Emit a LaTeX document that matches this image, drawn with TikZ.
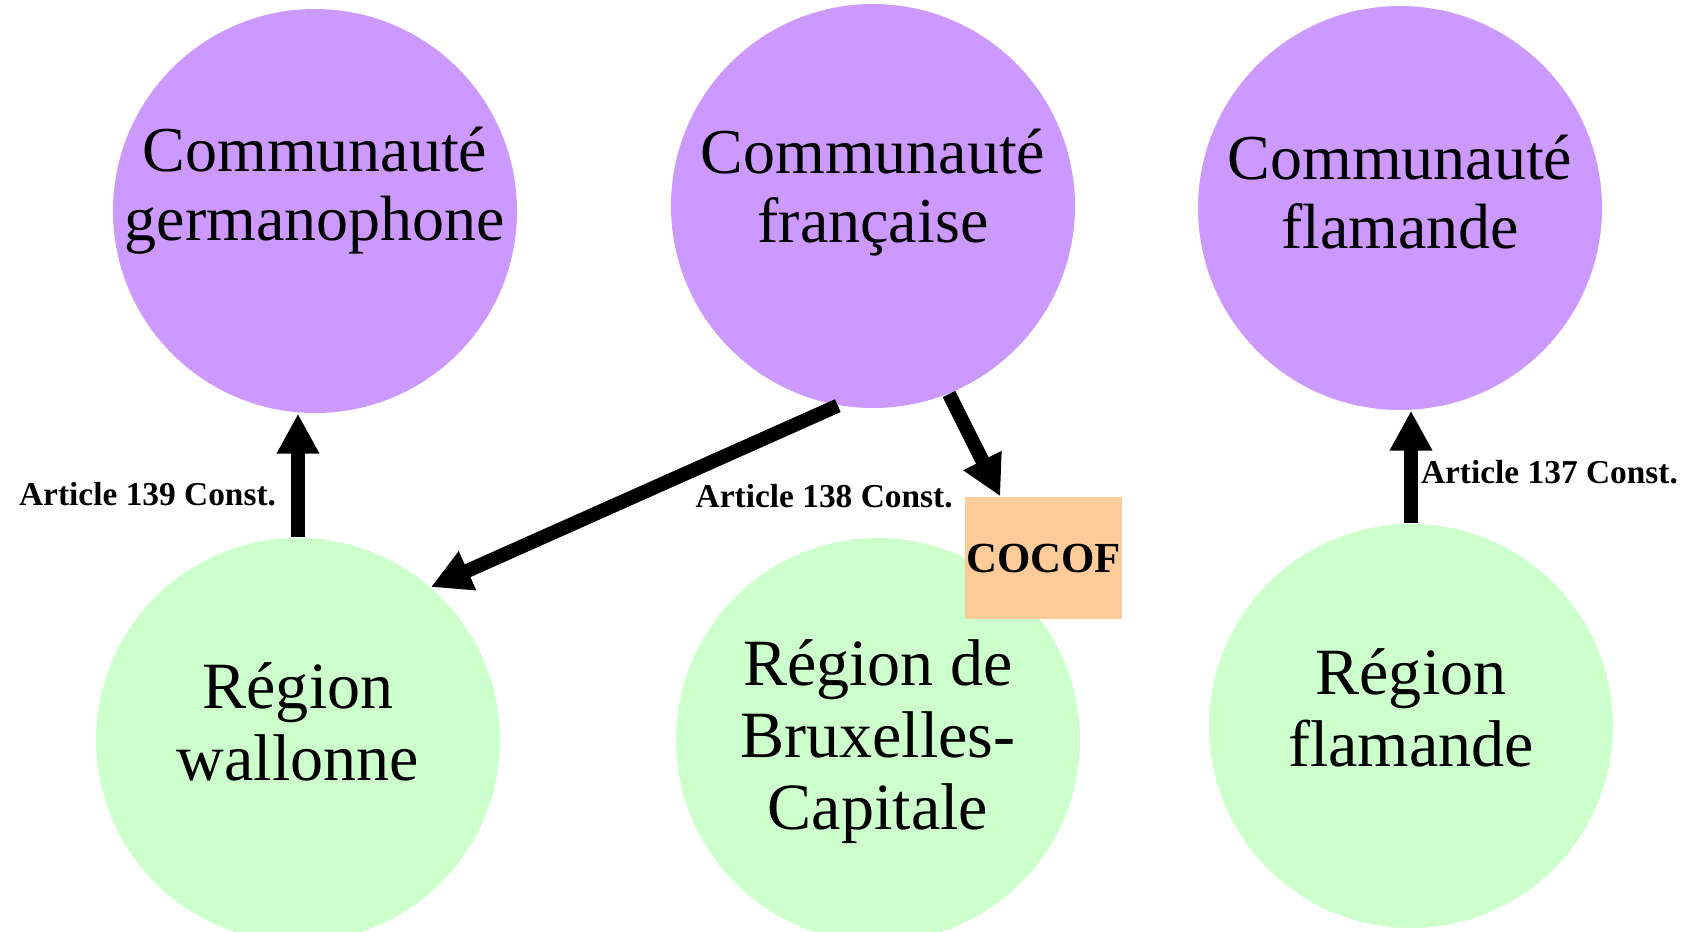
\documentclass[tikz,border=0pt]{standalone}
\usepackage{fontspec}
\setmainfont{Liberation Serif}
\usepackage{xcolor}
\usetikzlibrary{arrows.meta,positioning}
\definecolor{commcol}{RGB}{204,153,255}
\definecolor{regcol}{RGB}{204,255,204}
\definecolor{cocofcol}{RGB}{255,204,153}
% first baseline on top, so text depth moves the text up
\newcommand{\ltext}[1]{\parbox[t]{3.85cm}{\centering #1}}
\tikzstyle{comm} = [circle, fill=commcol, minimum size=4.04cm, inner sep=0pt, text height=0pt, text depth=0.66cm, font=\fontsize{18.2}{19.9}\selectfont]
\tikzstyle{region} = [circle, fill=regcol, minimum size=4.04cm, inner sep=0pt, text height=0pt, text depth=0.64cm, font=\fontsize{18.8}{20.5}\selectfont]
\tikzstyle{cocofbox} = [rectangle, fill=cocofcol, minimum width=1.57cm, minimum height=1.22cm, inner sep=0pt, font=\fontsize{12.2}{14}\selectfont\bfseries]
\tikzstyle{lbl} = [inner sep=0pt, font=\fontsize{9.5}{11}\selectfont\bfseries]
\tikzstyle{arr} = [line width=0.14cm, -{Triangle[length=0.40cm,width=0.40cm]}]

\begin{document}
\begin{tikzpicture}[node distance=1cm]

    \path [use as bounding box] (-3.15,2.11) rectangle (13.71,-7.20);
    \clip (-3.15,2.11) rectangle (13.71,-7.20);

    \node (germ) [comm, text depth=0.80cm] {\ltext{Communauté\\germanophone}};
    \node (fr) [comm, right of=germ, xshift=4.58cm, yshift=0.05cm] {\ltext{Communauté\\française}};
    \node (flamc) [comm, right of=fr, xshift=4.27cm, yshift=-0.02cm, text depth=0.58cm] {\ltext{Communauté\\flamande}};
    \node (wal) [region, below of=germ, xshift=-0.17cm, yshift=-4.29cm] {\ltext{Région\\wallonne}};
    \node (bxl) [region, right of=wal, xshift=4.8cm, text depth=1.10cm] {\ltext{Région de\\Bruxelles-\\Capitale}};
    \node (flamr) [region, right of=bxl, xshift=4.33cm, yshift=0.14cm] {\ltext{Région\\flamande}};
    \node (cocof) [cocofbox, above of=bxl, xshift=1.655cm, yshift=0.82cm] {COCOF};
    \node (a138) [lbl, left=0.11cm of cocof.north west] {Article 138 Const.};

    \draw [arr] (wal.north) -- node (a139) [lbl, pos=0.35, left=0.15cm] {Article 139 Const.} (wal.north |- germ.south);
    \draw [arr] (fr.260) -- (wal.49);
    \draw [arr] (fr.292) -- (cocof.125);
    \draw [arr] (flamr.north) -- node (a137) [lbl, pos=0.45, right=0.03cm] {Article 137 Const.} (flamr.north |- flamc.south);
\end{tikzpicture}
\end{document}
